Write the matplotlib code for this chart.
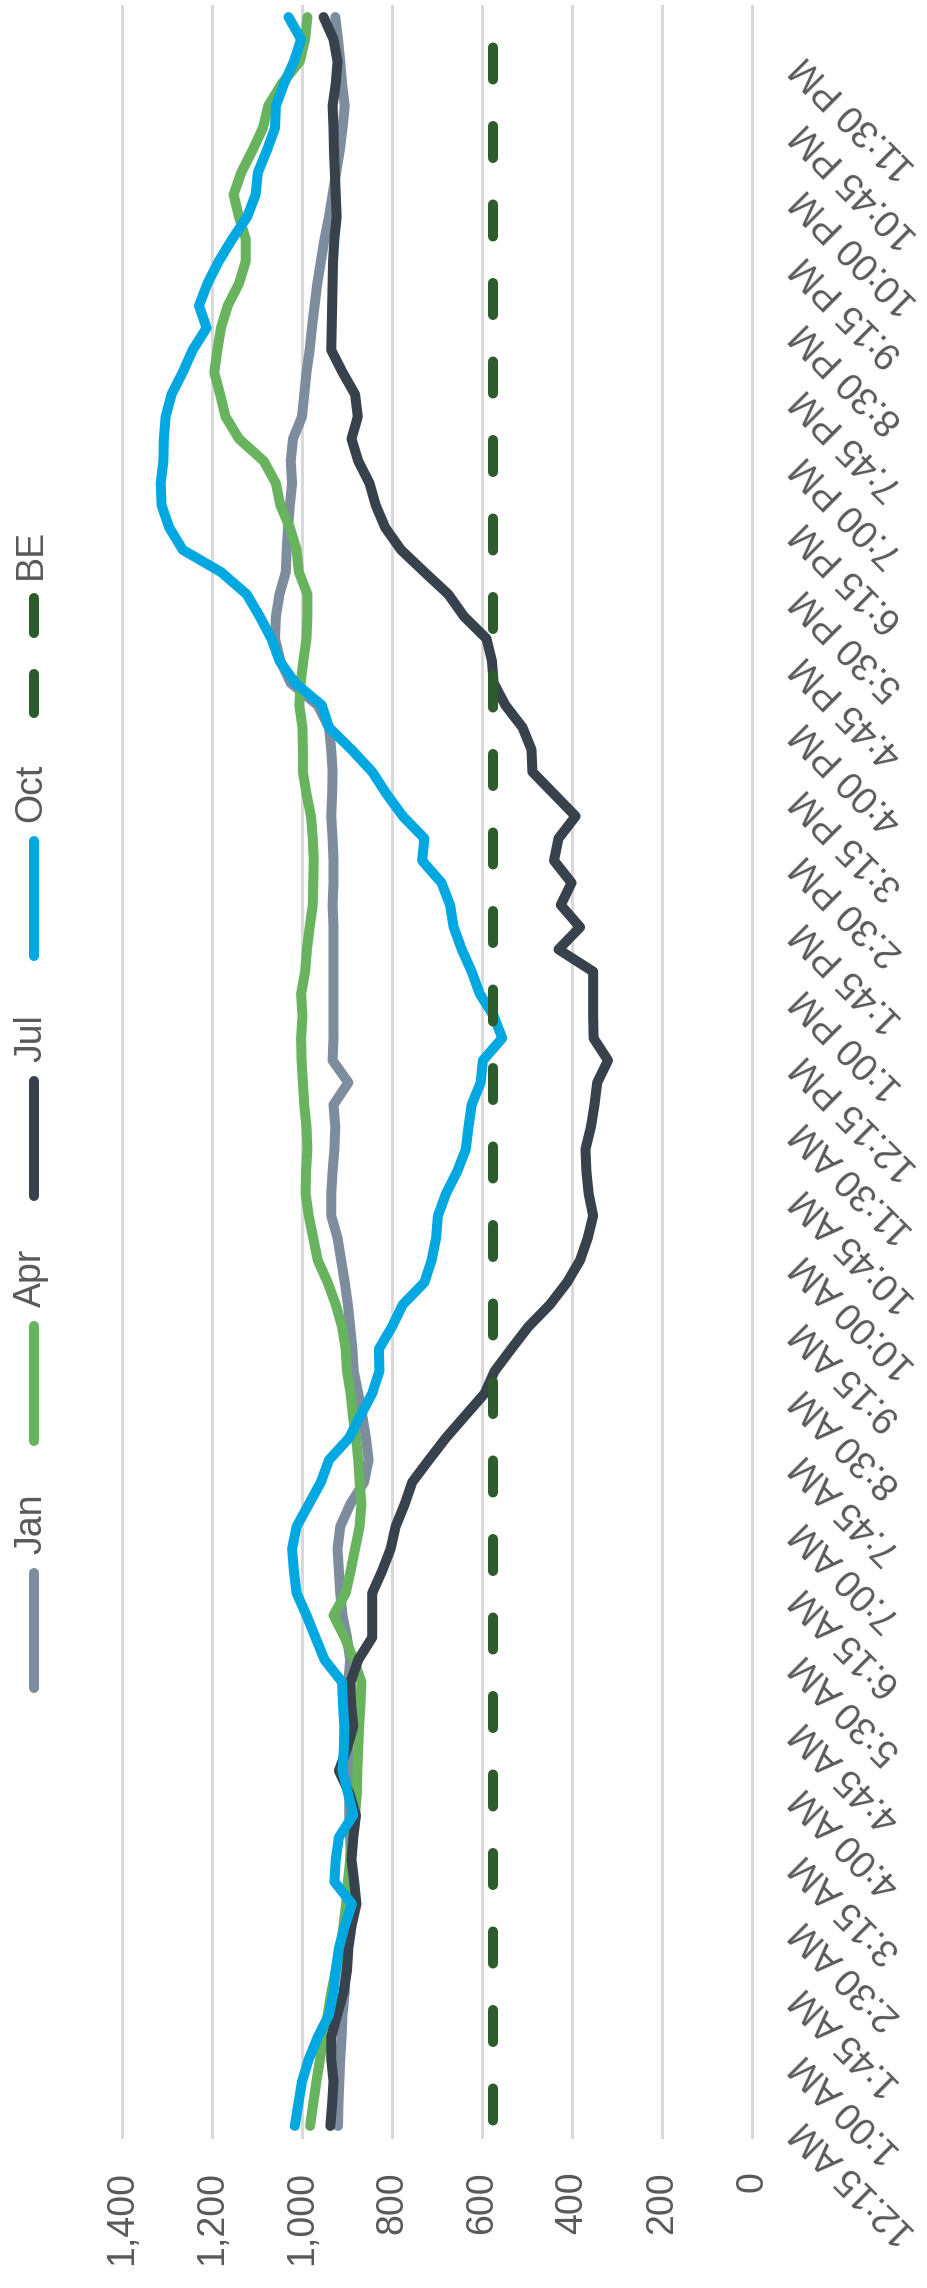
import matplotlib
matplotlib.use("Agg")
import matplotlib.pyplot as plt
from matplotlib.lines import Line2D

plt.rcParams["font.family"] = ["Liberation Sans", "DejaVu Sans"]

W, H, DPI = 927, 2288, 100


def clock(minutes):
    h, m = divmod(minutes % 1440, 60)
    suffix = "AM" if h < 12 else "PM"
    return f"{h % 12 or 12}:{m:02d} {suffix}"


# 15-minute intervals, 12:15 AM through midnight
times = [clock(15 * (k + 1)) for k in range(96)]
tick_labels = times[::3]
value_ticks = [0, 200, 400, 600, 800, 1000, 1200, 1400]

jan = [920, 919, 917, 915, 912, 910, 905, 903, 900, 898,
       895, 893, 892, 893, 895, 895, 896, 897, 897, 897,
       897, 893, 900, 910, 915, 918, 921, 915, 893, 862,
       852, 858, 866, 875, 885, 888, 893, 898, 905, 913,
       921, 935, 935, 932, 928, 926, 930, 897, 932, 930,
       930, 930, 930, 930, 930, 932, 930, 930, 932, 935,
       933, 932, 935, 940, 965, 1025, 1048, 1060, 1058, 1050,
       1036, 1034, 1031, 1027, 1022, 1025, 1020, 1000, 995, 990,
       983, 978, 972, 966, 958, 950, 940, 932, 924, 916,
       910, 905, 911, 915, 920, 926]

apr = [982, 975, 968, 960, 952, 943, 935, 925, 915, 908,
       902, 898, 893, 888, 882, 878, 877, 875, 873, 870,
       868, 885, 905, 930, 903, 892, 882, 872, 868, 872,
       875, 880, 887, 892, 900, 903, 911, 925, 943, 965,
       975, 985, 992, 991, 988, 990, 995, 998, 1001, 1002,
       999, 1002, 993, 989, 983, 976, 975, 974, 976, 980,
       990, 998, 998, 999, 1006, 1003, 997, 990, 988, 988,
       1007, 1012, 1027, 1048, 1058, 1085, 1140, 1170, 1182, 1195,
       1188, 1180, 1165, 1140, 1125, 1125, 1140, 1152, 1135, 1110,
       1087, 1075, 1045, 1005, 993, 988]

jul = [937, 933, 930, 935, 935, 922, 908, 900, 897, 890,
       879, 884, 890, 886, 880, 895, 918, 900, 886, 891,
       892, 875, 844, 844, 844, 822, 803, 792, 772, 755,
       718, 680, 637, 594, 572, 535, 497, 449, 411, 382,
       365, 353, 363, 368, 370, 358, 350, 344, 320, 352,
       353, 353, 353, 430, 382, 425, 401, 440, 430, 392,
       440, 488, 490, 510, 548, 574, 578, 590, 640, 675,
       728, 780, 815, 836, 850, 875, 890, 876, 882, 910,
       935, 934, 933, 932, 931, 928, 923, 925, 927, 929,
       930, 932, 925, 921, 930, 952]

oct_ = [1016, 1008, 1000, 985, 965, 940, 930, 925, 918, 905,
        889, 928, 925, 918, 886, 898, 910, 907, 906, 909,
        911, 950, 970, 990, 1012, 1018, 1022, 1012, 985, 958,
        940, 895, 870, 844, 828, 829, 800, 776, 728, 712,
        702, 698, 680, 655, 636, 630, 623, 603, 598, 555,
        574, 605, 623, 645, 663, 671, 690, 733, 728, 776,
        812, 844, 890, 940, 956, 1015, 1050, 1068, 1094, 1123,
        1180, 1265, 1295, 1312, 1314, 1308, 1307, 1303, 1290, 1265,
        1243, 1212, 1229, 1210, 1185, 1155, 1122, 1103, 1098, 1078,
        1060, 1058, 1040, 1018, 1002, 1030]

be_level = 575
be = [be_level] * len(times)

series = [
    ("Jan", jan, "#7D8D9E"),
    ("Apr", apr, "#68B35E"),
    ("Jul", jul, "#37424C"),
    ("Oct", oct_, "#00A8E2"),
]
be_color = "#2E5B2C"
text_color = "#595959"
grid_color = "#D9D9D9"
lw = 7.2
fs = 27

fig = plt.figure(figsize=(W / DPI, H / DPI), dpi=DPI)
ax = fig.add_axes([122 / W, 1 - 2137 / H, (752 - 122) / W, (2137 - 6) / H])

pos = list(range(len(times)))
for name, vals, color in series:
    ax.plot(vals, pos, color=color, lw=lw,
            solid_capstyle="round", solid_joinstyle="round")
ax.plot(be, pos, color=be_color, lw=lw,
        linestyle=(7.3, (3.2, 4.65)), dash_capstyle="round")

ax.set_xlim(1400, 0)
ax.set_ylim(-0.5, len(times) - 0.5)

ax.set_xticks(value_ticks)
ax.set_xticklabels([f"{v:,}" for v in value_ticks], rotation=90)
ax.grid(axis="x", color=grid_color, lw=2.2)
ax.grid(axis="y", visible=False)
ax.set_axisbelow(True)
for gl in ax.get_xgridlines():
    gl.set_clip_on(False)

ax.yaxis.tick_right()
ax.set_yticks(pos[::3])
ax.set_yticklabels(tick_labels, rotation=135, ha="right", va="center",
                   rotation_mode="anchor")

ax.tick_params(length=0, labelcolor=text_color, labelsize=fs)
ax.tick_params(axis="x", pad=24.5)
ax.tick_params(axis="y", pad=33)
for s in ax.spines.values():
    s.set_visible(False)

# Legend, stacked bottom-to-top along the left edge
legend_x, text_x = 34 / W, 31 / W
marker_len = 125
entries = [(name, color, False) for name, _, color in series] + [("BE", be_color, True)]
marker_bottoms = [1693, 1446, 1201, 961, 718]
cap = lw * DPI / 72 / 2
for (name, color, dashed), yb in zip(entries, marker_bottoms):
    yt = yb - marker_len
    y0 = 1 - (yb - cap) / H
    y1 = 1 - (yt + cap) / H
    kw = dict(color=color, lw=lw, transform=fig.transFigure)
    if dashed:
        kw.update(linestyle=(0, (3.9, 4.1)), dash_capstyle="round")
    else:
        kw.update(solid_capstyle="round")
    fig.add_artist(Line2D([legend_x, legend_x], [y0, y1], **kw))
    fig.text(text_x, 1 - (yt - 14) / H, name, rotation=90, ha="center",
             va="bottom", fontsize=fs, color=text_color)

fig.savefig("out.png", dpi=DPI)
